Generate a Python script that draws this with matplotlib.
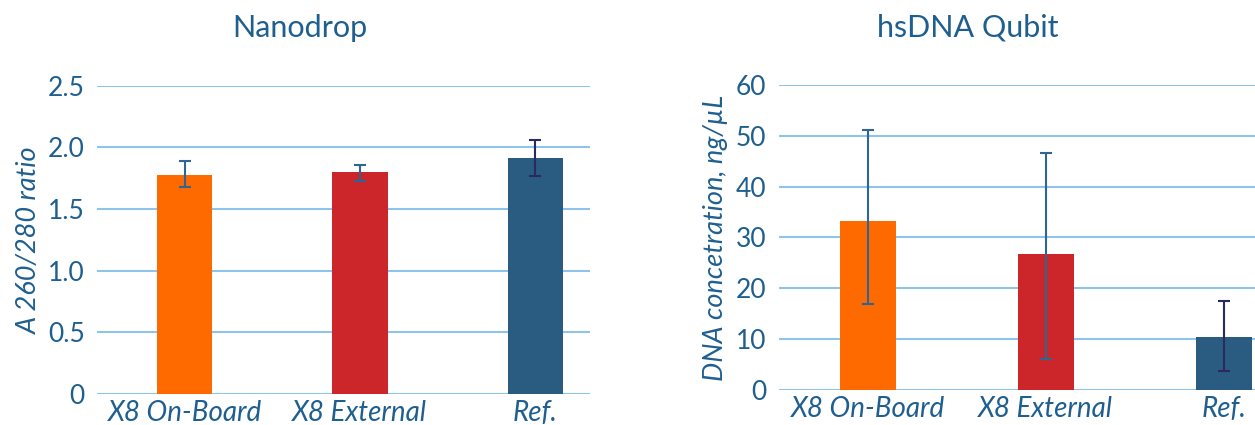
import numpy as np
import matplotlib.pyplot as plt

plt.rcParams['font.family'] = ['Lato', 'DejaVu Sans']

categories = ['X8 On-Board', 'X8 External', 'Ref.']

# Nanodrop A260/280 ratio
nano_mean = [1.78, 1.80, 1.91]
nano_low = [1.68, 1.73, 1.77]
nano_high = [1.89, 1.86, 2.06]

# hsDNA Qubit concentration, ng/uL
qubit_mean = [33.2, 26.8, 10.4]
qubit_low = [17.0, 6.1, 3.8]
qubit_high = [51.2, 46.7, 17.5]

bar_colors = ['#ff6a00', '#cc252a', '#2a5b80']
err_colors = ['#2e6592', '#2e6592', '#2b2a5e']
text_col = '#1f5f8f'
grid_col = '#8ec4ea'

fig = plt.figure(figsize=(12.55, 4.25), dpi=100)
ax1 = fig.add_axes([0.0773, 0.0729, 0.393, 0.7254])
ax2 = fig.add_axes([0.6207, 0.0824, 0.3793, 0.7176])


def draw(ax, mean, low, high, ylim, yticks, yticklabels, xright, ylabel, lpad):
    x = np.arange(len(categories))
    ax.bar(x, mean, width=0.315, color=bar_colors, zorder=2)
    for i in range(len(x)):
        ax.errorbar(x[i], mean[i],
                    yerr=[[mean[i] - low[i]], [high[i] - mean[i]]],
                    fmt='none', ecolor=err_colors[i], elinewidth=1.5,
                    capsize=4.5, capthick=1.5, zorder=3)
    ax.set_xlim(-0.5, xright)
    ax.set_ylim(*ylim)
    ax.set_yticks(yticks)
    ax.set_yticklabels(yticklabels)
    ax.set_xticks(x)
    ax.set_xticklabels(categories, fontstyle='italic')
    ax.grid(axis='y', color=grid_col, linewidth=1.5, zorder=0)
    ax.set_axisbelow(True)
    for s in ax.spines.values():
        s.set_visible(False)
    ax.tick_params(axis='both', length=0, colors=text_col)
    ax.tick_params(axis='y', pad=9, labelsize=19)
    ax.tick_params(axis='x', pad=4, labelsize=20)
    ax.set_ylabel(ylabel, fontstyle='italic', color=text_col, fontsize=19.5, labelpad=lpad)


draw(ax1, nano_mean, nano_low, nano_high, (0, 2.5),
     [0, 0.5, 1.0, 1.5, 2.0, 2.5], ['0', '0.5', '1.0', '1.5', '2.0', '2.5'],
     2.314, 'A 260/280 ratio', 4)
draw(ax2, qubit_mean, qubit_low, qubit_high, (0, 60),
     [0, 10, 20, 30, 40, 50, 60], ['0', '10', '20', '30', '40', '50', '60'],
     2.175, 'DNA concetration, ng/µL', 6)

fig.text(0.239, 0.935, 'Nanodrop', ha='center', va='center', color=text_col, fontsize=22)
fig.text(0.771, 0.935, 'hsDNA Qubit', ha='center', va='center', color=text_col, fontsize=22)

fig.savefig('out.png', dpi=100)
